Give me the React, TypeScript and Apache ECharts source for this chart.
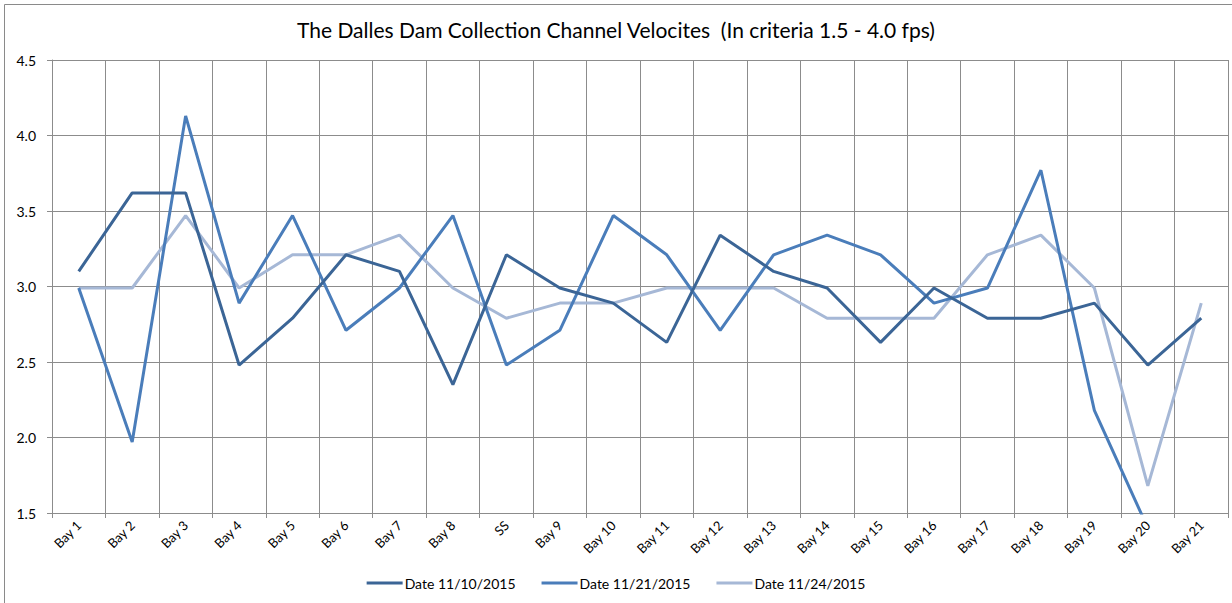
import React, { useEffect, useRef } from "react";
import * as echarts from "echarts";

const categories = [
  "Bay 1", "Bay 2", "Bay 3", "Bay 4", "Bay 5", "Bay 6", "Bay 7", "Bay 8", "SS",
  "Bay 9", "Bay 10", "Bay 11", "Bay 12", "Bay 13", "Bay 14", "Bay 15", "Bay 16",
  "Bay 17", "Bay 18", "Bay 19", "Bay 20", "Bay 21",
];

const date1110 = [3.10, 3.62, 3.62, 2.48, 2.79, 3.21, 3.10, 2.35, 3.21, 2.99, 2.89, 2.63, 3.34, 3.10, 2.99, 2.63, 2.99, 2.79, 2.79, 2.89, 2.48, 2.79];
const date1121: (number | null)[] = [2.99, 1.97, 4.13, 2.89, 3.47, 2.71, 2.99, 3.47, 2.48, 2.71, 3.47, 3.21, 2.71, 3.21, 3.34, 3.21, 2.89, 2.99, 3.77, 2.18, 1.40, null];
const date1124 = [2.99, 2.99, 3.47, 2.99, 3.21, 3.21, 3.34, 2.99, 2.79, 2.89, 2.89, 2.99, 2.99, 2.99, 2.79, 2.79, 2.79, 3.21, 3.34, 2.99, 1.68, 2.89];

const seriesNames = ["Date 11/10/2015", "Date 11/21/2015", "Date 11/24/2015"];
const colors = ["#3b6596", "#4a7dba", "#a6b8d6"];

const titleText = "The Dalles Dam Collection Channel Velocites  (In criteria 1.5 - 4.0 fps)";
const FONT = "Lato, 'Open Sans', sans-serif";
const GRID = "#8c8c8c";

export default function App() {
  const ref = useRef<HTMLDivElement>(null);
  useEffect(() => {
    if (!ref.current) return;
    const chart = echarts.init(ref.current, undefined, { renderer: "svg" });
    const data = [date1110, date1121, date1124];
    chart.setOption({
      animation: false,
      backgroundColor: "#fff",
      textStyle: { fontFamily: FONT },
      title: {
        text: titleText,
        left: "center",
        top: 14,
        textStyle: { fontFamily: FONT, fontSize: 21, fontWeight: "normal", color: "#000" },
      },
      graphic: [
        {
          type: "rect",
          shape: { x: 4.5, y: 4.5, width: 1300, height: 700 },
          style: { fill: "none", stroke: "#8a8a8a", lineWidth: 1 },
          silent: true,
        },
      ],
      legend: {
        top: 571,
        left: "center",
        icon: "rect",
        itemWidth: 36,
        itemHeight: 3,
        itemGap: 26,
        textStyle: { fontFamily: FONT, fontSize: 14, color: "#000", padding: [0, 0, 0, -3] },
        data: seriesNames,
      },
      grid: { left: 52, right: 4, top: 60, bottom: 90, containLabel: false },
      xAxis: {
        type: "category",
        data: categories,
        boundaryGap: true,
        axisLine: { show: true, lineStyle: { color: GRID, width: 1 } },
        axisTick: { show: true, interval: 0, length: 5, lineStyle: { color: GRID } },
        splitLine: { show: true, interval: 0, lineStyle: { color: GRID, width: 1 } },
        axisLabel: { interval: 0, rotate: 45, margin: 10, fontSize: 13, color: "#000", fontFamily: FONT },
      },
      yAxis: {
        type: "value",
        min: 1.5,
        max: 4.5,
        interval: 0.5,
        axisLine: { show: true, lineStyle: { color: GRID, width: 1 } },
        axisTick: { show: true, length: 5, lineStyle: { color: GRID } },
        splitLine: { show: true, lineStyle: { color: GRID, width: 1 } },
        axisLabel: {
          margin: 16,
          fontSize: 14,
          color: "#000",
          fontFamily: FONT,
          formatter: (v: number) => v.toFixed(1),
        },
      },
      series: seriesNames.map((name, i) => ({
        name,
        type: "line",
        data: data[i],
        symbol: "none",
        clip: true,
        connectNulls: false,
        z: 3 - i,
        lineStyle: { color: colors[i], width: 3 },
        itemStyle: { color: colors[i] },
      })),
    });
    return () => chart.dispose();
  }, []);
  return (
    <div
      ref={ref}
      style={{ position: "absolute", left: 0, top: 0, width: 1232, height: 603 }}
    />
  );
}
